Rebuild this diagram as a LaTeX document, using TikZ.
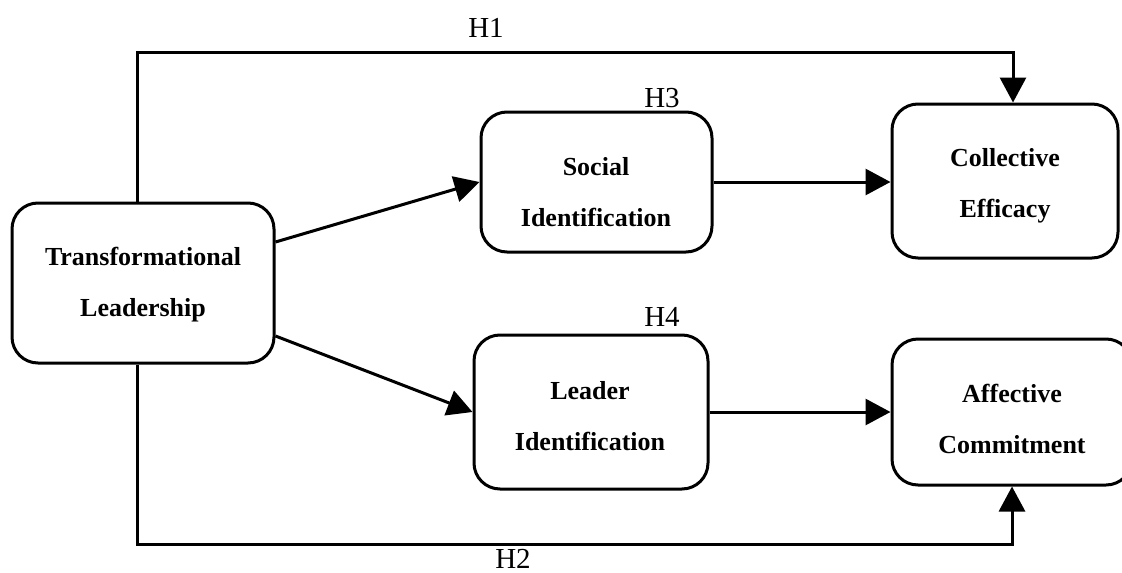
\documentclass[tikz,border=0pt]{standalone}
\usepackage{fontspec}
\setmainfont{Liberation Serif}
\usetikzlibrary{arrows.meta,calc}
\begin{document}
\begin{tikzpicture}[x=1pt,y=-1pt,
  box/.style={draw, line width=3pt, rounded corners=26pt, inner sep=0pt},
  lbl/.style={font=\fontsize{26}{51}\selectfont\bfseries, align=center, inner sep=0pt},
  hyp/.style={font=\fontsize{29}{32}\selectfont, inner sep=0pt},
  arr/.style={line width=3pt, -{Triangle[length=25pt,width=26pt]}}]
\useasboundingbox (0,0) rectangle (1122,573);
\clip (0,0) rectangle (1122,573);
\fill[white] (0,0) rectangle (1122,573);

% boxes
\node[box, minimum width=262pt, minimum height=160pt] (tl) at (143,283) {};
\node[box, minimum width=231pt, minimum height=140pt] (si) at (596.5,182) {};
\node[box, minimum width=226pt, minimum height=154pt] (ce) at (1005,181) {};
\node[box, minimum width=234pt, minimum height=154pt] (li) at (591,412) {};
\node[box, minimum width=240pt, minimum height=146pt] (ac) at (1012,412) {};

% box texts
\node[lbl] (tlt) at (143,285) {Transformational\\Leadership};
\node[lbl] (sit) at (596,192) {Social\\Identification};
\node[lbl] (cet) at (1005,186) {Collective\\Efficacy};
\node[lbl] (lit) at (590,416) {Leader\\Identification};
\node[lbl] (act) at (1012,419) {Affective\\Commitment};

% hypothesis labels
\node[hyp] (h1) at (486,28) {H1};
\node[hyp] (h3) at (662,98) {H3};
\node[hyp] (h4) at (662,317) {H4};
\node[hyp] (h2) at (513,559) {H2};

% connectors
\coordinate (c1) at (1013,52);
\coordinate (c2) at (1012,544);
\draw[arr] ([xshift=-6pt]tl.north) |- (c1) -- (c1 |- ce.north);
\draw[arr] ([xshift=-6pt]tl.south) |- (c2) -- (c2 |- ac.south);
\draw[arr] ([yshift=41pt]tl.east) -- (si.west);
\draw[arr] ([yshift=-53pt]tl.east) -- (li.west);
\draw[arr] (si.east) -- (si.east -| ce.west);
\draw[arr] (li.east) -- (li.east -| ac.west);
\end{tikzpicture}
\end{document}
